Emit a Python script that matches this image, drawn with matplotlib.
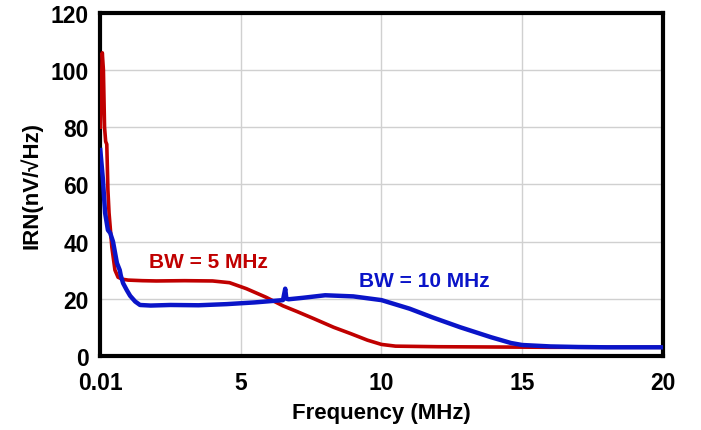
import matplotlib
matplotlib.use("Agg")
import matplotlib.pyplot as plt

# frequency (MHz) and input referred noise (nV/sqrt(Hz))
red_f = [0.01, 0.08, 0.12, 0.16, 0.2, 0.24, 0.28, 0.32, 0.42, 0.53, 0.64, 0.8,
         1.0, 1.5, 2.0, 3.0, 4.0, 4.6, 5.2, 5.9, 6.5, 7.0, 7.6, 8.3, 8.9,
         9.5, 10.0, 10.5, 12.0, 14.0, 16.0, 18.0, 20.0]
red_irn = [80, 106, 100, 80, 75, 74, 58, 50, 38, 30, 27.5, 26.8,
           26.5, 26.3, 26.2, 26.3, 26.2, 25.6, 23.5, 20.5, 17.5, 15.5, 13, 10, 7.8,
           5.5, 4.0, 3.4, 3.2, 3.1, 3.0, 3.0, 3.0]

blue_f = [0.01, 0.1, 0.18, 0.28, 0.36, 0.46, 0.6, 0.66, 0.7, 0.74, 0.82, 0.95,
          1.07, 1.25, 1.42, 1.8, 2.5, 3.5, 4.5, 5.5, 6.5, 6.58, 6.62, 6.7, 7.2,
          8.0, 9.0, 10.0, 11.0, 11.8, 12.8, 13.9, 14.6, 15.0, 16.0, 17.0, 18.0, 20.0]
blue_irn = [72, 62, 50, 44, 43, 40, 32.5, 31, 30, 28, 25.4, 23,
            21, 19, 17.8, 17.6, 17.8, 17.7, 18.1, 18.7, 19.5, 23.5, 20, 19.8, 20.3,
            21.2, 20.8, 19.5, 16.5, 13.5, 10, 6.5, 4.5, 3.8, 3.3, 3.1, 3.0, 3.0]

x_ticks = [0.01, 5, 10, 15, 20]
x_labels = ["0.01", "5", "10", "15", "20"]
y_ticks = [0, 20, 40, 60, 80, 100, 120]

red = "#C00000"
blue = "#0A14C8"
font = ["Liberation Sans", "DejaVu Sans"]

fig = plt.figure(figsize=(7.01, 4.31), dpi=100)
ax = fig.add_axes([0.1427, 0.172, 0.803, 0.796])

ax.plot(red_f, red_irn, color=red, lw=2.6, zorder=3)
ax.plot(blue_f, blue_irn, color=blue, lw=3.2, zorder=4)

ax.text(1.75, 33, "BW = 5 MHz", color=red, fontsize=15, fontweight="bold",
        family=font, va="center", ha="left")
ax.text(9.2, 26.5, "BW = 10 MHz", color=blue, fontsize=15, fontweight="bold",
        family=font, va="center", ha="left")

ax.set_xlim(0, 20)
ax.set_ylim(0, 120)
ax.set_xticks(x_ticks)
ax.set_xticklabels(x_labels)
ax.set_yticks(y_ticks)
ax.grid(True, color="#d0d0d0", lw=1)
ax.set_axisbelow(True)
ax.tick_params(axis="y", length=0, pad=8)
ax.tick_params(axis="x", length=0, pad=11)
for lab in ax.get_xticklabels() + ax.get_yticklabels():
    lab.set_family(font)
    lab.set_fontsize(16.5)
    lab.set_fontweight("bold")
for s in ax.spines.values():
    s.set_linewidth(3)
    s.set_color("black")

ax.set_xlabel("Frequency (MHz)", family=font, fontsize=16, fontweight="bold", labelpad=6)
ax.set_ylabel("IRN(nV/\u221aHz)", family=font, fontsize=16, fontweight="bold", labelpad=6)

fig.savefig("out.png", dpi=100)
